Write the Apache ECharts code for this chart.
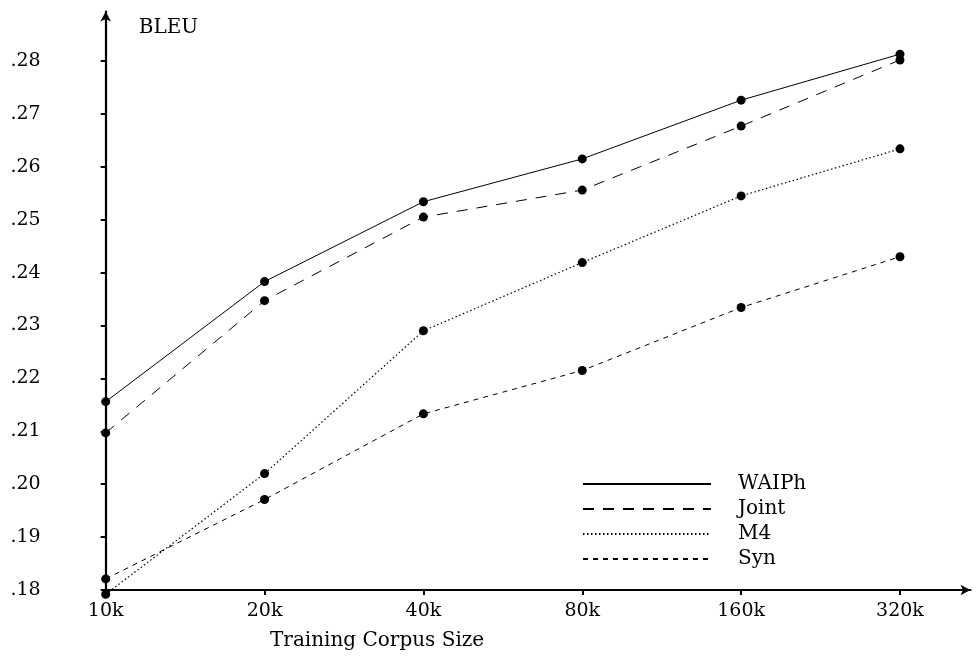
<!DOCTYPE html>
<html>
<head>
<meta charset="utf-8">
<script src="https://cdn.jsdelivr.net/npm/echarts@6/dist/echarts.min.js"></script>
<style>
  html, body { margin: 0; padding: 0; background: #fff; }
  #chart { width: 980px; height: 656px; }
</style>
</head>
<body>
<div id="chart"></div>
<script>
// Training corpus sizes along the x axis
const corpusSizes = ['10k', '20k', '40k', '80k', '160k', '320k'];
// BLEU tick values on the y axis
const bleuTicks = [0.18, 0.19, 0.20, 0.21, 0.22, 0.23, 0.24, 0.25, 0.26, 0.27, 0.28];

// BLEU scores per system
const waiph = [0.2156, 0.2383, 0.2534, 0.2615, 0.2726, 0.2813];
const joint = [0.2097, 0.2347, 0.2505, 0.2556, 0.2677, 0.2802];
const m4    = [0.1792, 0.2020, 0.2290, 0.2419, 0.2545, 0.2634];
const syn   = [0.1821, 0.1971, 0.2133, 0.2215, 0.2334, 0.2430];

const FONT = 'DejaVu Serif';

function toPoints(values) {
  return values.map((v, i) => [i, v]);
}

function lineSeries(name, values, dash, width) {
  return {
    name: name,
    type: 'line',
    data: toPoints(values),
    clip: false,
    symbol: 'circle',
    symbolSize: 9,
    itemStyle: { color: '#000' },
    lineStyle: { color: '#000', width: width, type: dash },
    emphasis: { disabled: true },
    animation: false
  };
}

const chart = echarts.init(document.getElementById('chart'), null, { renderer: 'canvas' });

chart.setOption({
  backgroundColor: '#fff',
  animation: false,
  grid: { left: 105.7, right: 9.5, top: 11.5, bottom: 66 },
  legend: {
    orient: 'vertical',
    left: 582,
    top: 474,
    padding: 0,
    itemWidth: 128,
    itemHeight: 14,
    itemGap: 5,
    selectedMode: false,
    itemStyle: { opacity: 0 },
    textStyle: { fontFamily: FONT, fontSize: 20, color: '#000', lineHeight: 20, padding: [0, 0, 0, 22] },
    data: ['WAIPh', 'Joint', 'M4', 'Syn']
  },
  xAxis: {
    type: 'value',
    min: 0,
    max: 5.444,
    name: 'Training Corpus Size',
    nameLocation: 'middle',
    nameGap: 41,
    nameTextStyle: { fontFamily: FONT, fontSize: 20, color: '#000', padding: [0, 322, 0, 0] },
    splitLine: { show: false },
    axisLine: {
      onZero: false,
      lineStyle: { color: '#000', width: 2.2 },
      symbol: ['none', 'arrow'],
      symbolSize: [8, 10]
    },
    axisTick: { show: true, length: 5, lineStyle: { color: '#000', width: 2 }, customValues: corpusSizes.map((_, i) => i) },
    axisLabel: {
      fontFamily: FONT, fontSize: 19, color: '#000', margin: 12,
      customValues: corpusSizes.map((_, i) => i),
      formatter: v => corpusSizes[Math.round(v)] || ''
    }
  },
  yAxis: {
    type: 'value',
    min: 0.18,
    max: 0.28936,
    name: 'BLEU',
    nameLocation: 'end',
    nameGap: -16,
    nameTextStyle: { fontFamily: FONT, fontSize: 20, color: '#000', align: 'left', verticalAlign: 'middle', padding: [0, 0, 0, 33] },
    splitLine: { show: false },
    axisLine: {
      onZero: false,
      lineStyle: { color: '#000', width: 2.2 },
      symbol: ['none', 'arrow'],
      symbolSize: [8, 10]
    },
    axisTick: { show: true, length: 5, lineStyle: { color: '#000', width: 2 }, customValues: bleuTicks },
    axisLabel: {
      fontFamily: FONT, fontSize: 19, color: '#000', margin: 65,
      customValues: bleuTicks,
      formatter: v => '.' + Math.round(v * 100)
    }
  },
  series: [
    lineSeries('WAIPh', waiph, 'solid', 1),
    lineSeries('Joint', joint, [11, 9], 1),
    lineSeries('M4', m4, [1.5, 2.5], 1.2),
    lineSeries('Syn', syn, [5, 5], 1)
  ]
});
</script>
</body>
</html>
